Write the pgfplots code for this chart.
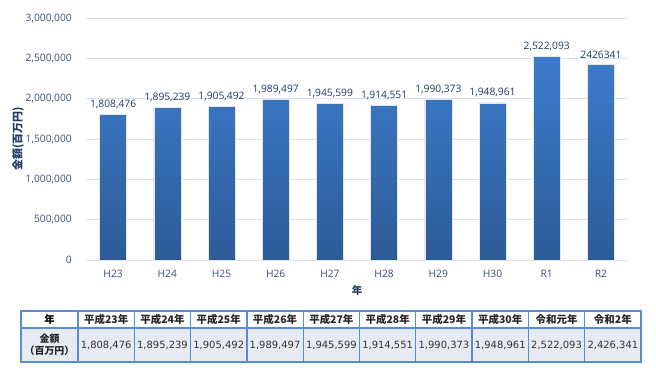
\documentclass[border=0pt]{standalone}
\usepackage{pgfplots}
\pgfplotsset{compat=1.18}
\usepackage{fontspec}
\setmainfont{Open Sans}
\newfontfamily\jp{Noto Sans CJK JP}
\newfontfamily\tbl{DejaVu Sans}
\definecolor{gridc}{HTML}{D9E2F1}
\definecolor{tickc}{HTML}{3B4E6E}
\definecolor{labc}{HTML}{1F3864}
\definecolor{barTop}{HTML}{3D7CCB}
\definecolor{barBot}{HTML}{2C5B98}
\definecolor{tblBorder}{HTML}{5B8BD0}
\definecolor{tblBg}{HTML}{E6EBF3}
\definecolor{tblTxt}{HTML}{333333}
\begin{document}
\begin{tikzpicture}[x=1bp,y=1bp]
\path (0,0) rectangle (656,374);
\begin{axis}[
  at={(86bp,114bp)}, anchor=south west,
  scale only axis, width=542bp, height=242bp,
  xmin=-0.5, xmax=9.5, ymin=0, ymax=3000000,
  axis line style={draw=none},
  major tick length=0pt,
  ymajorgrids, major grid style={color=gridc, line width=0.9bp},
  ytick={0,500000,1000000,1500000,2000000,2500000,3000000},
  scaled y ticks=false,
  /pgf/number format/fixed,
  /pgf/number format/1000 sep={,},
  /pgf/number format/assume math mode=true,
  yticklabel style={anchor=east, inner sep=0pt, xshift=-14bp},
  xtick={0,...,9},
  xticklabels={H23,H24,H25,H26,H27,H28,H29,H30,R1,R2},
  xticklabel style={anchor=center, yshift=-14bp},
  ticklabel style={font=\fontsize{10.3}{11}\selectfont, color=tickc},
  xlabel={\jp\bfseries 年},
  xlabel style={at={(axis description cs:0.5,0)}, anchor=center, yshift=-31bp, font=\fontsize{10.5}{11}\selectfont, color=labc},
  ylabel={\jp\bfseries 金額(百万円)},
  ylabel style={at={(axis description cs:0,0.5)}, anchor=center, yshift=68bp, font=\fontsize{11}{12}\selectfont, color=labc},
  nodes near coords,
  point meta=explicit symbolic,
  nodes near coords style={anchor=south, inner sep=0pt, yshift=5.5bp, font=\fontsize{10.3}{11}\selectfont, color=labc},
]
\addplot[ybar, bar width=27bp, bar shift=0pt, draw=black!10, line width=0.4bp, top color=barTop, bottom color=barBot] table[meta=label] {
x y label
0 1808476 {1,808,476}
1 1895239 {1,895,239}
2 1905492 {1,905,492}
3 1989497 {1,989,497}
4 1945599 {1,945,599}
5 1914551 {1,914,551}
6 1990373 {1,990,373}
7 1948961 {1,948,961}
8 2522093 {2,522,093}
9 2426341 {2426341}
};
\end{axis}
% data table below the chart
\fill[tblBg] (21,12) rectangle (641,46);
\fill[white] (21,46) rectangle (641,63);
\draw[tblBorder, line width=1.3bp] (21,12) rectangle (641,63);
\draw[tblBorder, line width=1.3bp] (21,46) -- (641,46);
\foreach \k in {0,...,9} {
  \draw[tblBorder, line width=1.3bp] ({78+56.3*\k},12) -- ({78+56.3*\k},63);
}
\node[font=\jp\bfseries\fontsize{10.5}{11}\selectfont] at (49.5,54.5) {年};
\node[font=\jp\bfseries\fontsize{10}{12}\selectfont, align=center, text=black!85] at (49.5,29) {金額\\（百万円）};
\foreach \k/\h/\v in {0/平成23年/{1,808,476},1/平成24年/{1,895,239},2/平成25年/{1,905,492},3/平成26年/{1,989,497},4/平成27年/{1,945,599},5/平成28年/{1,914,551},6/平成29年/{1,990,373},7/平成30年/{1,948,961},8/令和元年/{2,522,093},9/令和2年/{2,426,341}} {
  \node[font=\jp\bfseries\fontsize{10.5}{11}\selectfont, text=black!85] at ({78+56.3*\k+28.15},54.5) {\h};
  \node[font=\tbl\fontsize{10}{11}\selectfont, text=tblTxt] at ({78+56.3*\k+28.15},29) {\v};
}
\end{tikzpicture}
\end{document}
